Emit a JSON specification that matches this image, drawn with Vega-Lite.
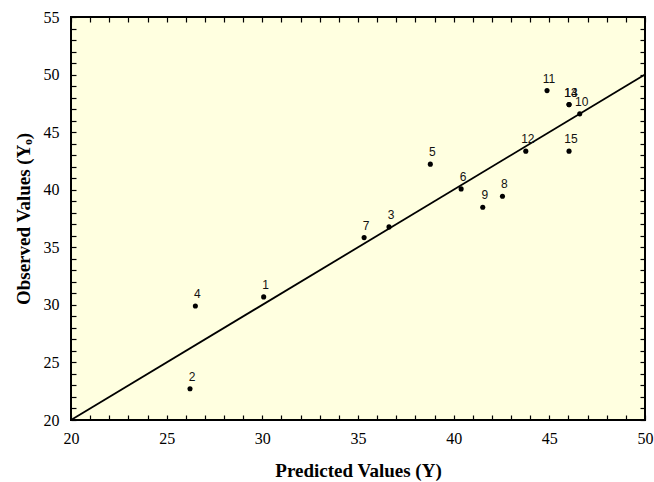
{
  "$schema": "https://vega.github.io/schema/vega-lite/v6.json",
  "width": 574,
  "height": 403,
  "autosize": "none",
  "padding": {"left": 71, "top": 17, "right": 9, "bottom": 62},
  "background": "white",
  "config": {
    "view": {"fill": "#FFFFE0", "stroke": "black", "strokeWidth": 2},
    "axis": {
      "domain": false,
      "grid": false,
      "tickColor": "black",
      "tickSize": -5,
      "tickWidth": 1.2,
      "labelFont": "Liberation Serif",
      "labelFontSize": 16,
      "labelColor": "black",
      "titleFont": "Liberation Serif",
      "titleFontSize": 19,
      "titleFontWeight": "bold",
      "titleColor": "black"
    }
  },
  "datasets": {
    "obs": [
      {"id": "1", "predicted": 30.07, "observed": 30.69},
      {"id": "2", "predicted": 26.22, "observed": 22.72},
      {"id": "3", "predicted": 36.62, "observed": 36.77},
      {"id": "4", "predicted": 26.5, "observed": 29.9},
      {"id": "5", "predicted": 38.78, "observed": 42.22},
      {"id": "6", "predicted": 40.39, "observed": 40.07},
      {"id": "7", "predicted": 35.32, "observed": 35.84},
      {"id": "8", "predicted": 42.55, "observed": 39.43},
      {"id": "9", "predicted": 41.52, "observed": 38.48},
      {"id": "10", "predicted": 46.59, "observed": 46.59},
      {"id": "11", "predicted": 44.88, "observed": 48.61},
      {"id": "12", "predicted": 43.77, "observed": 43.35},
      {"id": "13", "predicted": 46.03, "observed": 47.39},
      {"id": "14", "predicted": 46.03, "observed": 47.39},
      {"id": "15", "predicted": 46.03, "observed": 43.35}
    ],
    "fit": [{"px": 20, "ob": 20}, {"px": 50, "ob": 50}]
  },
  "resolve": {"axis": {"x": "independent", "y": "independent"}},
  "layer": [
    {
      "data": {"name": "obs"},
      "mark": {"type": "circle", "color": "black", "opacity": 1, "size": 26},
      "encoding": {
        "x": {"field": "predicted", "type": "quantitative", "scale": {"domain": [20, 50], "nice": false, "zero": false},
          "axis": {"orient": "bottom", "values": [20,21,22,23,24,25,26,27,28,29,30,31,32,33,34,35,36,37,38,39,40,41,42,43,44,45,46,47,48,49,50],
            "labelExpr": "datum.value % 5 === 0 ? datum.label : ''", "labelPadding": 15, "labelFlush": false, "labelOverlap": false,
            "title": "Predicted Values (Y)", "titlePadding": 15}},
        "y": {"field": "observed", "type": "quantitative", "scale": {"domain": [20, 55], "nice": false, "zero": false},
          "axis": {"orient": "left", "values": [20,21,22,23,24,25,26,27,28,29,30,31,32,33,34,35,36,37,38,39,40,41,42,43,44,45,46,47,48,49,50,51,52,53,54,55],
            "labelExpr": "datum.value % 5 === 0 ? datum.label : ''", "labelPadding": 17, "labelFlush": false, "labelOverlap": false,
            "title": "Observed Values (Yₒ)", "titlePadding": 10}}
      }
    },
    {
      "data": {"name": "fit"},
      "mark": {"type": "line", "color": "black", "strokeWidth": 1.8},
      "encoding": {
        "x": {"field": "px", "type": "quantitative",
          "axis": {"orient": "top", "values": [20,21,22,23,24,25,26,27,28,29,30,31,32,33,34,35,36,37,38,39,40,41,42,43,44,45,46,47,48,49,50], "labels": false, "title": null}},
        "y": {"field": "ob", "type": "quantitative",
          "axis": {"orient": "right", "values": [20,21,22,23,24,25,26,27,28,29,30,31,32,33,34,35,36,37,38,39,40,41,42,43,44,45,46,47,48,49,50,51,52,53,54,55], "labels": false, "title": null}}
      }
    },
    {
      "data": {"name": "obs"},
      "mark": {"type": "text", "font": "Liberation Sans", "fontSize": 12, "color": "#111", "dx": 2, "dy": -12, "baseline": "middle", "align": "center"},
      "encoding": {
        "x": {"field": "predicted", "type": "quantitative", "axis": null},
        "y": {"field": "observed", "type": "quantitative", "axis": null},
        "text": {"field": "id"}
      }
    }
  ]
}
